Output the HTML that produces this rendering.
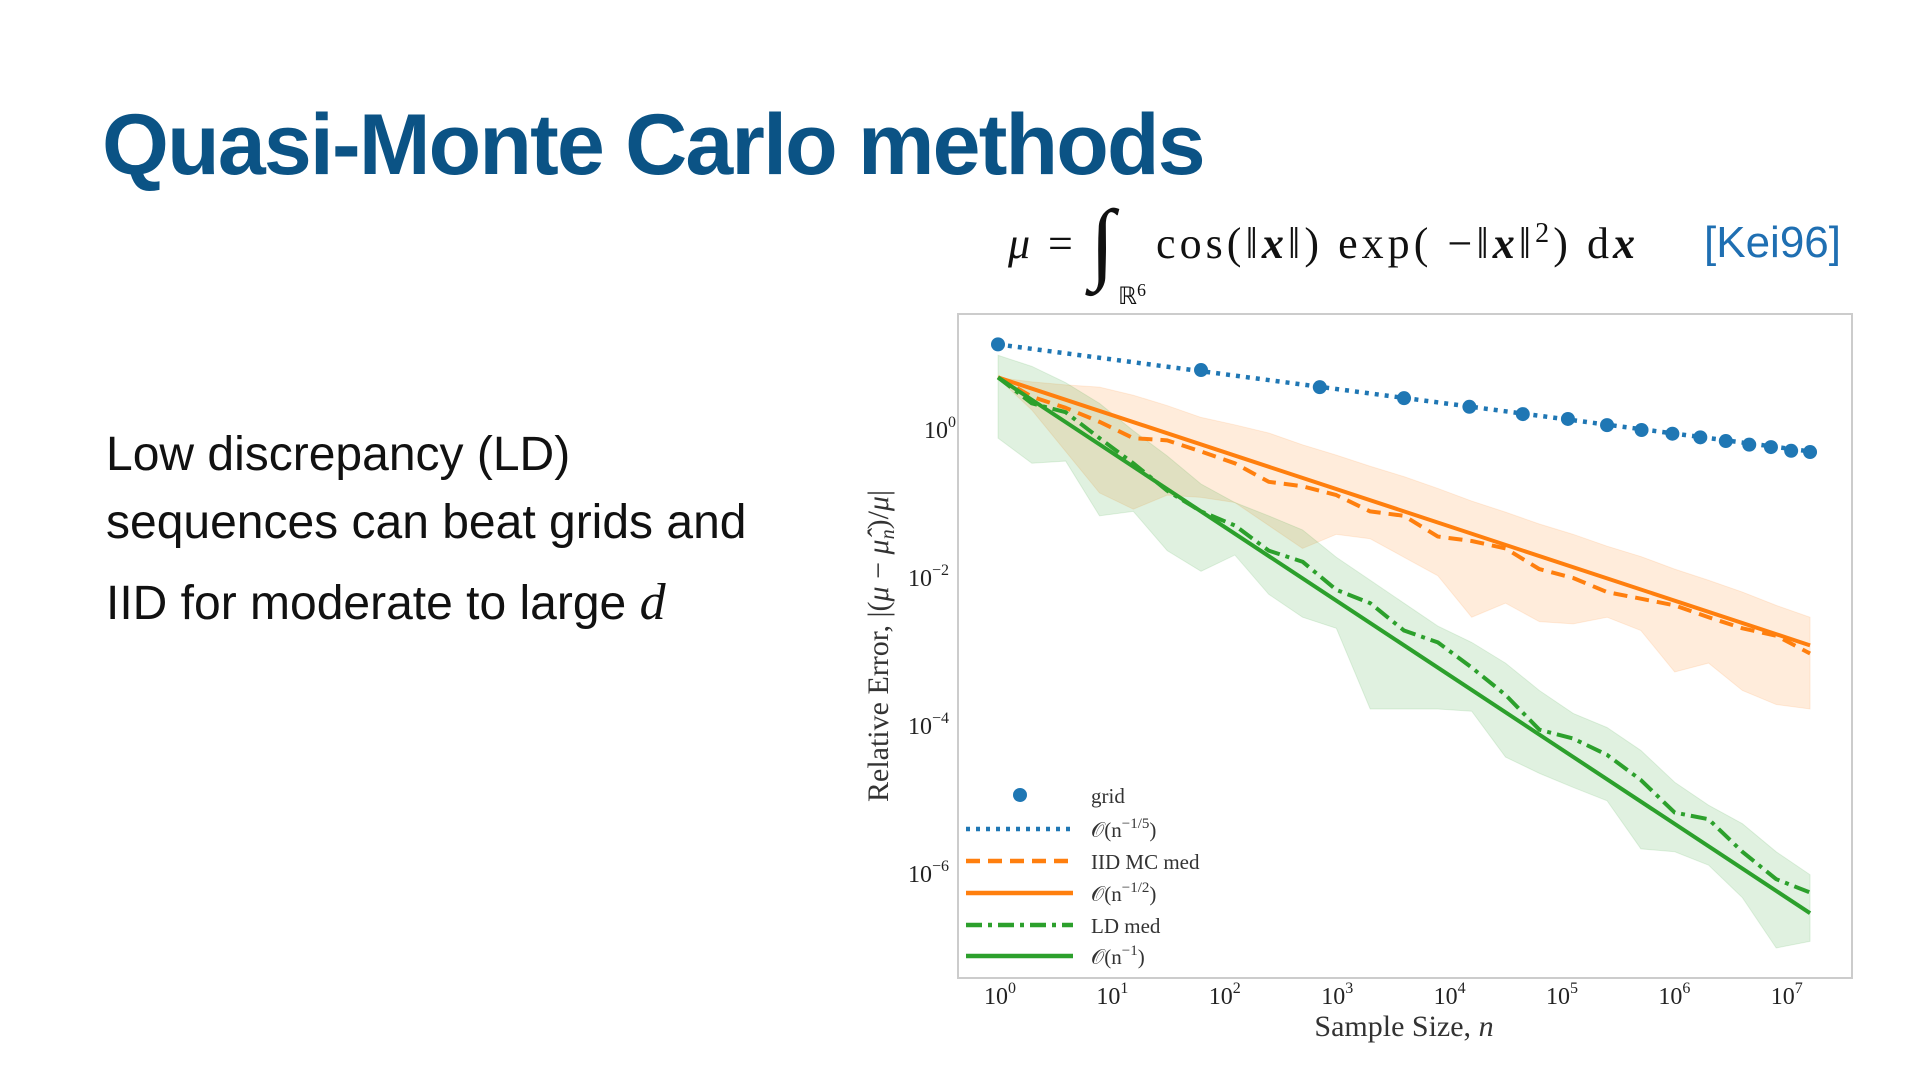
<!DOCTYPE html>
<html><head><meta charset="utf-8"><style>
body{margin:0;width:1920px;height:1080px;background:#fff;overflow:hidden;position:relative;font-family:"Liberation Sans",sans-serif}
#title{position:absolute;left:102px;top:96px;font-size:86px;font-weight:bold;color:#0b5385;letter-spacing:-1.8px;margin:0}
.body{position:absolute;left:106px;font-size:48px;color:#111}
#cite{position:absolute;left:1704px;top:218px;font-size:44px;color:#1f6fb2}
</style></head><body>
<h1 id="title">Quasi-Monte Carlo methods</h1>
<div class="body" style="top:427px">Low discrepancy (LD)</div>
<div class="body" style="top:495px">sequences can beat grids and</div>
<div class="body" style="top:573px">IID for moderate to large <i style="font-family:'Liberation Serif',serif;font-size:52px">d</i></div>
<div id="cite">[Kei96]</div>
<svg id="formula" style="position:absolute;left:0;top:0" width="1920" height="320">
<g font-family="Liberation Serif,serif" fill="#111">
<text x="1008" y="258" font-size="44" font-style="italic">μ</text>
<text x="1048" y="258" font-size="44">=</text>
<text x="1090" y="272" font-size="90">∫</text>
<text x="1118" y="304" font-size="24">ℝ<tspan font-size="18" dy="-8">6</tspan></text>
<text x="1156" y="258" font-size="44" textLength="479" lengthAdjust="spacing">cos(‖<tspan font-weight="bold" font-style="italic">x</tspan>‖) exp( −‖<tspan font-weight="bold" font-style="italic">x</tspan>‖<tspan font-size="28" dy="-16">2</tspan><tspan dy="16">) d</tspan><tspan font-weight="bold" font-style="italic">x</tspan></text>
</g></svg>
<svg id="chart" style="position:absolute;left:0;top:0" width="1920" height="1080"></svg>
<script>
const gridN=[1,64,729,4096,15625,46656,117649,262144,531441,1000000,1771561,2985984,4826809,7529536,11390625,16777216];
const gridErrLog=[1.157,0.81,0.579,0.43,0.314,0.215,0.149,0.066,0,-0.05,-0.099,-0.149,-0.198,-0.231,-0.281,-0.298];
const sampleExp=[0,1,2,3,4,5,6,7,8,9,10,11,12,13,14,15,16,17,18,19,20,21,22,23,24];
const iidMedLog=[0.714,0.45,0.30,0.11,-0.11,-0.14,-0.29,-0.45,-0.70,-0.76,-0.88,-1.10,-1.16,-1.44,-1.50,-1.60,-1.88,-2.00,-2.19,-2.28,-2.37,-2.53,-2.68,-2.78,-3.02];
const iidUpLog=[0.71,0.65,0.61,0.58,0.47,0.33,0.17,0.07,-0.04,-0.20,-0.34,-0.49,-0.63,-0.79,-0.96,-1.11,-1.27,-1.41,-1.57,-1.71,-1.88,-2.03,-2.19,-2.37,-2.53];
const iidLoLog=[0.70,0.27,-0.29,-0.85,-1.07,-0.88,-0.91,-0.98,-1.29,-1.60,-1.41,-1.47,-1.72,-1.97,-2.53,-2.34,-2.59,-2.62,-2.53,-2.71,-3.27,-3.15,-3.52,-3.71,-3.77];
const ldMedLog=[0.71,0.36,0.24,-0.11,-0.45,-0.82,-1.10,-1.29,-1.63,-1.78,-2.16,-2.34,-2.71,-2.87,-3.21,-3.58,-4.05,-4.17,-4.39,-4.73,-5.17,-5.26,-5.70,-6.07,-6.25];
const ldUpLog=[1.01,0.86,0.64,0.36,-0.01,-0.35,-0.73,-0.98,-1.16,-1.35,-1.72,-2.03,-2.34,-2.65,-2.87,-3.15,-3.52,-3.83,-4.02,-4.33,-4.76,-5.07,-5.32,-5.70,-6.01];
const ldLoLog=[-0.11,-0.45,-0.42,-1.16,-1.10,-1.63,-1.91,-1.69,-2.22,-2.53,-2.68,-3.77,-3.77,-3.77,-3.80,-4.42,-4.64,-4.83,-5.01,-5.66,-5.70,-5.88,-6.32,-7.00,-6.91];
const rateGridLog=[1.157,-0.29];
const rateHalfLog=[0.71,-2.91];
const rateOneLog=[0.71,-6.53];
const xTicks=[0,1,2,3,4,5,6,7];
const yTicks=[0,-2,-4,-6];

const NS='http://www.w3.org/2000/svg';
const svg=document.getElementById('chart');
const X=l=>998+l*112.4, Y=l=>430-l*74;
const L2=Math.log10(2);
function mk(t,a,p){const e=document.createElementNS(NS,t);for(const k in a)e.setAttribute(k,a[k]);(p||svg).appendChild(e);return e;}
const box=mk('rect',{x:958,y:314,width:894,height:664,fill:'none',stroke:'#ccc','stroke-width':2});


const cp=mk('clipPath',{id:'cp'});
mk('rect',{x:959,y:315,width:892,height:662},cp);
const g=mk('g',{'clip-path':'url(#cp)'});
function band(up,lo,col,name){
  let pts=sampleExp.map((k,i)=>X(k*L2)+','+Y(up[i]));
  for(let i=sampleExp.length-1;i>=0;i--)pts.push(X(sampleExp[i]*L2)+','+Y(lo[i]));
  const e=mk('polygon',{points:pts.join(' '),fill:col,'fill-opacity':0.15,stroke:col,'stroke-opacity':0.12},g);
  
  
}
band(iidUpLog,iidLoLog,'#ff7f0e','iid-band');
band(ldUpLog,ldLoLog,'#2ca02c','ld-band');
function line(xs,ys,col,dash,name,w){
  const e=mk('polyline',{points:xs.map((x,i)=>X(x)+','+Y(ys[i])).join(' '),fill:'none',stroke:col,'stroke-width':w||4,'stroke-dasharray':dash||'none','stroke-linejoin':'round'},g);
  
  
}
const lastGridX=Math.log10(gridN[gridN.length-1]);
line([0,lastGridX],rateGridLog,'#1f77b4','4 6','rate-n-1-5',4.5);
line([0,24*L2],rateHalfLog,'#ff7f0e','','rate-n-1-2',4);
line(sampleExp.map(k=>k*L2),iidMedLog,'#ff7f0e','14 8','iid-mc-median',4);
line([0,24*L2],rateOneLog,'#2ca02c','','rate-n-1',4);
line(sampleExp.map(k=>k*L2),ldMedLog,'#2ca02c','16 6 4 6','ld-median',4);
gridN.forEach((n,i)=>{
  const c=mk('circle',{cx:X(Math.log10(n)),cy:Y(gridErrLog[i]),r:7,fill:'#1f77b4'},g);
  
  
});
const F='Liberation Serif,serif';
xTicks.forEach(t=>{
  const e=mk('text',{x:X(t)-14,y:1004,'font-family':F,'font-size':24,fill:'#222'});
  e.innerHTML='10<tspan font-size="16" dy="-11">'+t+'</tspan>';
  
  
});
yTicks.forEach(t=>{
  const e=mk('text',{x:t<0?908:924,y:Y(t)+8,'font-family':F,'font-size':24,fill:'#222'});
  e.innerHTML='10<tspan font-size="16" dy="-11">'+(t<0?'−'+(-t):t)+'</tspan>';
  
  
});
const xl=mk('text',{x:1404,y:1036,'font-family':F,'font-size':30,fill:'#333','text-anchor':'middle'});
xl.innerHTML='Sample Size, <tspan font-style="italic">n</tspan>';


const yl=mk('text',{x:0,y:0,'font-family':F,'font-size':30,fill:'#333','text-anchor':'middle',transform:'translate(888,646) rotate(-90)'});
yl.innerHTML='Relative Error, |(<tspan font-style="italic">μ</tspan> − <tspan font-style="italic">μ̂</tspan><tspan font-size="20" dy="6" font-style="italic">n</tspan><tspan dy="-6">)/</tspan><tspan font-style="italic">μ</tspan>|';


const leg=[['grid','#1f77b4','dot'],['𝒪(n<tspan font-size="15" dy="-9">−1/5</tspan><tspan dy="9">)</tspan>','#1f77b4','4 6'],['IID MC med','#ff7f0e','14 8'],['𝒪(n<tspan font-size="15" dy="-9">−1/2</tspan><tspan dy="9">)</tspan>','#ff7f0e',''],['LD med','#2ca02c','16 6 4 6'],['𝒪(n<tspan font-size="15" dy="-9">−1</tspan><tspan dy="9">)</tspan>','#2ca02c','']];
const rowsY=[795,829,861,893,925,956];
leg.forEach((r,i)=>{
  const lg=mk('g',{});
  
  
  if(r[2]==='dot')mk('circle',{cx:1020,cy:rowsY[i],r:7,fill:r[1]},lg);
  else mk('line',{x1:966,x2:1073,y1:rowsY[i],y2:rowsY[i],stroke:r[1],'stroke-width':4.5,'stroke-dasharray':r[2]||'none'},lg);
  const t=mk('text',{x:1091,y:rowsY[i]+8,'font-family':F,'font-size':21,fill:'#333'},lg);
  t.innerHTML=r[0];
});
</script>
</body></html>
